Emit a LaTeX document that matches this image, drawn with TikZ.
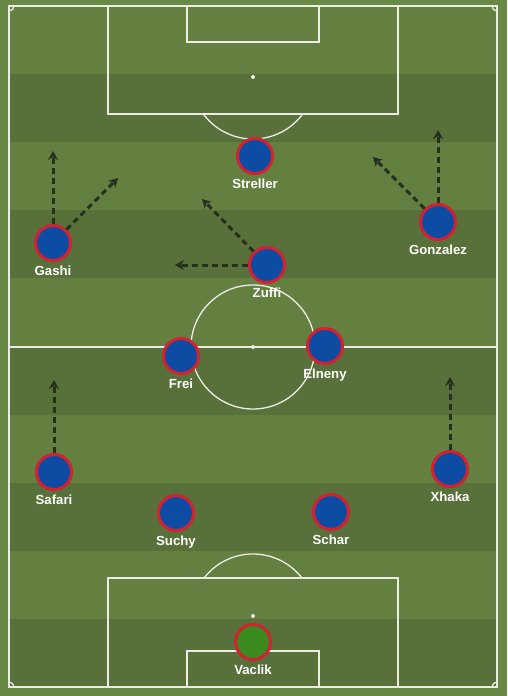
\documentclass[tikz,border=0pt]{standalone}
\usepackage{fontspec}
\setmainfont{Liberation Sans}
\usepackage{tikz}
\usetikzlibrary{arrows.meta, positioning}

\definecolor{Margin}{RGB}{104,136,70}
\definecolor{Light}{RGB}{99,128,64}
\definecolor{Dark}{RGB}{88,113,58}
\definecolor{Chalk}{RGB}{236,236,228}
\definecolor{Shirt}{RGB}{12,76,162}
\definecolor{Rim}{RGB}{212,32,48}
\definecolor{Keeper}{RGB}{58,138,30}
\definecolor{Run}{RGB}{38,48,30}

\tikzset{
  chalk/.style={draw=Chalk, line width=1.3pt},
  player/.style={circle, fill=Shirt, draw=Rim, line width=3pt, minimum size=35pt, inner sep=0pt},
  keeper/.style={player, fill=Keeper},
  tag/.style={text=white, font=\bfseries\fontsize{13.2}{15}\selectfont, inner sep=0pt, text height=9.5pt, text depth=2.5pt},
  run/.style={draw=Run, line width=3pt, dash pattern=on 6pt off 4pt, -{Stealth[length=9pt,width=10pt]}}
}

\begin{document}
\begin{tikzpicture}[x=1pt, y=-1pt]
      \useasboundingbox (0,0) rectangle (507,696);
      \fill[Margin] (0,0) rectangle (507,696);
      % stripes
      \foreach \i in {0,2,...,8}
        \fill[Light] (9,{6+68.1*\i}) rectangle (497,{6+68.1*(\i+1)});
      \foreach \i in {1,3,...,9}
        \fill[Dark] (9,{6+68.1*\i}) rectangle (497,{6+68.1*(\i+1)});

      % markings
      \draw[chalk] (9,6) rectangle (497,687);
      \draw[chalk] (9,347) -- (497,347);
      \draw[chalk] (253,347) circle[radius=62];
      \fill[Chalk] (253,347) circle[radius=2];
      \draw[chalk] (108,6) rectangle (398,114);
      \draw[chalk] (187,6) rectangle (319,42);
      \fill[Chalk] (253,77) circle[radius=2];
      \draw[chalk] (108,578) rectangle (398,687);
      \draw[chalk] (187,651) rectangle (319,687);
      \fill[Chalk] (253,616) circle[radius=2];
      \begin{scope}
        \clip (108,114) rectangle (398,200);
        \draw[chalk] (253,77) circle[radius=62];
      \end{scope}
      \begin{scope}
        \clip (108,578) rectangle (398,500);
        \draw[chalk] (253,616) circle[radius=62];
      \end{scope}
      \begin{scope}
        \clip (9,6) rectangle (497,687);
        \foreach \c in {(9,6),(497,6),(9,687),(497,687)}
          \draw[chalk] \c circle[radius=5];
      \end{scope}

      % players
      \node[player] (streller) at (255,156) {};
      \node[player] (gashi) at (53,243) {};
      \node[player] (gonzalez) at (438,222) {};
      \node[player] (zuffi) at (267,265) {};
      \node[player] (frei) at (181,356) {};
      \node[player] (elneny) at (325,346) {};
      \node[player] (safari) at (54,472) {};
      \node[player] (xhaka) at (450,469) {};
      \node[player] (suchy) at (176,513) {};
      \node[player] (schar) at (331,512) {};
      \node[keeper] (vaclik) at (253,642) {};

      \node[tag, below=4pt of streller] (strellerN) {Streller};
      \node[tag, below=4pt of gashi] (gashiN) {Gashi};
      \node[tag, below=4pt of gonzalez] (gonzalezN) {Gonzalez};
      \node[tag, below=4pt of zuffi] (zuffiN) {Zuffi};
      \node[tag, below=4pt of frei] (freiN) {Frei};
      \node[tag, below=4pt of elneny] (elnenyN) {Elneny};
      \node[tag, below=4pt of safari] (safariN) {Safari};
      \node[tag, below=4pt of xhaka] (xhakaN) {Xhaka};
      \node[tag, below=4pt of suchy] (suchyN) {Suchy};
      \node[tag, below=4pt of schar] (scharN) {Schar};
      \node[tag, below=4pt of vaclik] (vaclikN) {Vaclik};

      % runs
      \coordinate (gashiUp) at (53,151);
      \coordinate (gashiIn) at (118,178);
      \coordinate (zuffiUp) at (202,199);
      \coordinate (zuffiOut) at (175,265);
      \coordinate (gonzalezUp) at (438,130);
      \coordinate (gonzalezIn) at (373,157);
      \coordinate (safariUp) at (54,380);
      \coordinate (xhakaUp) at (450,377);
      \draw[run] (gashi) -- (gashiUp);
      \draw[run] (gashi) -- (gashiIn);
      \draw[run] (zuffi) -- (zuffiUp);
      \draw[run] (zuffi) -- (zuffiOut);
      \draw[run] (gonzalez) -- (gonzalezUp);
      \draw[run] (gonzalez) -- (gonzalezIn);
      \draw[run] (safari) -- (safariUp);
      \draw[run] (xhaka) -- (xhakaUp);

    \end{tikzpicture}
\end{document}
